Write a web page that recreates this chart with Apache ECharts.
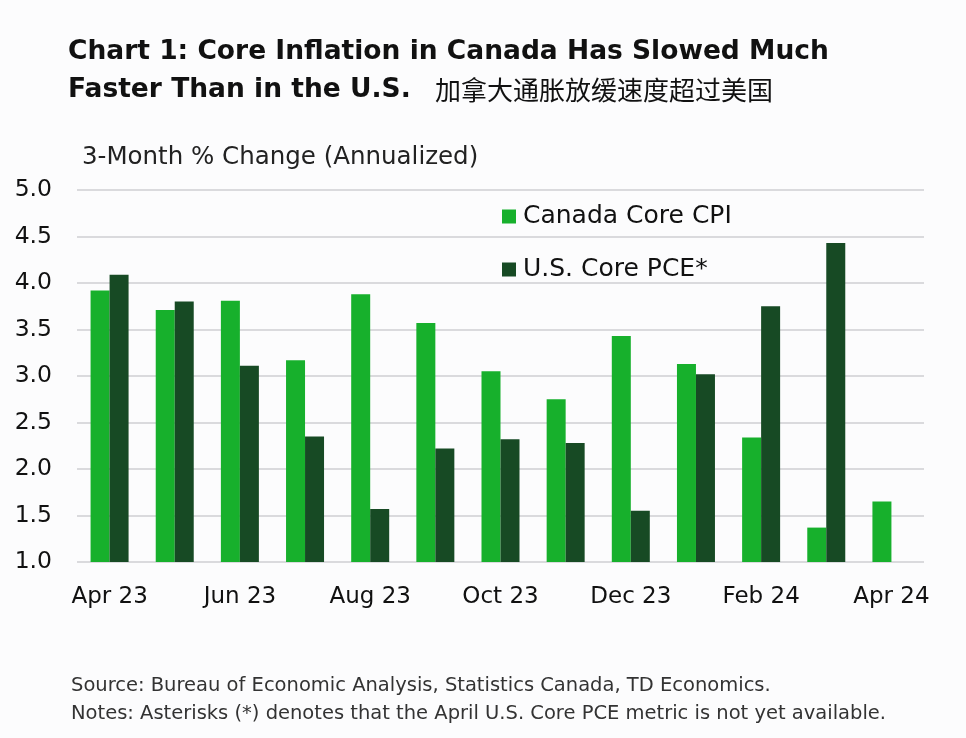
<!DOCTYPE html>
<html><head><meta charset="utf-8">
<script src="https://cdn.jsdelivr.net/npm/echarts@6/dist/echarts.min.js"></script>
<style>html,body{margin:0;padding:0;background:#fcfcfd;}#c{width:966px;height:738px;}</style>
</head><body><div id="c"></div>
<script>
const categories = ['Apr 23','May 23','Jun 23','Jul 23','Aug 23','Sep 23','Oct 23','Nov 23','Dec 23','Jan 24','Feb 24','Mar 24','Apr 24'];
const canadaCoreCPI = [3.92,3.71,3.81,3.17,3.88,3.57,3.05,2.75,3.43,3.13,2.34,1.37,1.65];
const usCorePCE = [4.09,3.80,3.11,2.35,1.57,2.22,2.32,2.28,1.55,3.02,3.75,4.43,null];
const yTicks = {min:1.0, max:5.0, interval:0.5};

const chart = echarts.init(document.getElementById('c'));
const F = '"DejaVu Sans", sans-serif';
chart.setOption({
  backgroundColor:'#fcfcfd',
  animation:false,
  title:[
    {text:'Chart 1: Core Inflation in Canada Has Slowed Much', left:63, top:34,
     textStyle:{fontFamily:F, fontSize:26.5, fontWeight:'bold', color:'#111'}},
    {text:'Faster Than in the U.S.', left:63, top:72,
     textStyle:{fontFamily:F, fontSize:26.5, fontWeight:'bold', color:'#111'}},
    {text:'加拿大通胀放缓速度超过美国', left:430, top:72,
     textStyle:{fontFamily:'"Noto Sans CJK SC", sans-serif', fontSize:26, fontWeight:'normal', color:'#111'}},
    {text:'3-Month % Change (Annualized)', left:77, top:140,
     textStyle:{fontFamily:F, fontSize:24.5, fontWeight:'normal', color:'#222'}},
    {text:'Source: Bureau of Economic Analysis, Statistics Canada, TD Economics.', left:66, top:671,
     textStyle:{fontFamily:F, fontSize:19.5, fontWeight:'normal', color:'#333'}},
    {text:'Notes: Asterisks (*) denotes that the April U.S. Core PCE metric is not yet available.', left:66, top:699,
     textStyle:{fontFamily:F, fontSize:19.5, fontWeight:'normal', color:'#333'}}
  ],
  legend:{
    orient:'vertical', left:497, top:199, itemGap:28, itemWidth:14, itemHeight:14,
    icon:'rect',
    textStyle:{fontFamily:F, fontSize:25, color:'#111', padding:[0,0,0,2]},
    data:['Canada Core CPI','U.S. Core PCE*']
  },
  grid:{left:77, right:42, top:190, bottom:176, containLabel:false},
  xAxis:{
    type:'category', data:categories,
    axisLine:{show:false}, axisTick:{show:false},
    axisLabel:{interval:1, fontFamily:F, fontSize:23, color:'#111', margin:24}
  },
  yAxis:{
    type:'value', min:yTicks.min, max:yTicks.max, interval:yTicks.interval,
    axisLine:{show:false}, axisTick:{show:false},
    axisLabel:{fontFamily:F, fontSize:23.5, color:'#111', margin:25, formatter:v=>v.toFixed(1)},
    splitLine:{lineStyle:{color:'#cfcfd2', width:1.5}}
  },
  series:[
    {name:'Canada Core CPI', type:'bar', data:canadaCoreCPI, barWidth:19, barGap:'0%',
     itemStyle:{color:'#17b02c'}},
    {name:'U.S. Core PCE*', type:'bar', data:usCorePCE, barWidth:19,
     itemStyle:{color:'#174a24'}}
  ]
});
</script></body></html>
